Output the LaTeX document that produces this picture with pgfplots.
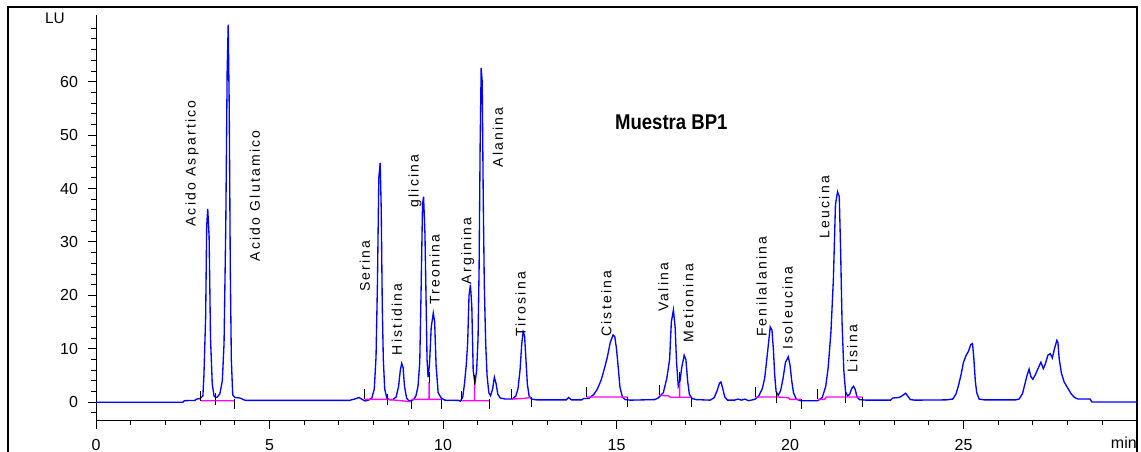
\documentclass[border=0pt]{standalone}
\usepackage{pgfplots}
\pgfplotsset{compat=1.18}
\usepackage{fontspec}
\setmainfont{Liberation Sans}
\newfontfamily\lblfont[LetterSpace=16]{Liberation Sans}
\definecolor{trace}{RGB}{0,0,255}
\definecolor{intbase}{RGB}{255,0,255}
\begin{document}
\begin{tikzpicture}[x=1pt,y=1pt]
\useasboundingbox (0,0) rectangle (855.75,339);
\draw[line width=0.9pt] (6,-3) rectangle (852.75,333.75);
\begin{axis}[
  at={(72pt,23.5pt)}, anchor=south west,
  scale only axis, width=780.75pt, height=304.3pt,
  xmin=0, xmax=30, ymin=-3.44, ymax=72.5,
  axis lines=left, axis line style={-, line width=0.75pt},
  xtick={0,5,10,15,20,25},
  minor xtick={1,2,3,4,6,7,8,9,11,12,13,14,16,17,18,19,21,22,23,24,26,27,28,29},
  ytick={0,10,20,30,40,50,60},
  minor ytick={-2,2,4,6,8,12,14,16,18,22,24,26,28,32,34,36,38,42,44,46,48,52,54,56,58,62,64,66,68,70},
  tick align=outside, major tick length=6pt, minor tick length=3.5pt,
  every tick/.style={black, line width=0.75pt},
  tick label style={font=\fontsize{12}{14}\selectfont},
  /pgf/number format/assume math mode=true,
  xticklabel style={anchor=center, yshift=-12pt},
  yticklabel style={xshift=-4pt},
  clip=false,
  unbounded coords=jump,
]
\addplot[trace, line width=1pt] coordinates {
(0,0) (2.5,0) (2.55,0.3) (2.85,0.35) (2.9,0.6) (3.0,0.7) (3.08,1.2) (3.11,5) (3.16,16) (3.19,33) (3.22,36.2) (3.26,31) (3.30,12) (3.35,3.5) (3.40,1.2) (3.45,0.9) (3.50,1.0) (3.57,1.6) (3.64,4) (3.69,11) (3.74,33) (3.78,62) (3.81,70.7) (3.84,55) (3.87,25) (3.90,8) (3.94,1.4) (4.0,0.9) (4.15,0.8) (4.3,0.35) (7.3,0.35) (7.45,0.6) (7.58,0.9) (7.68,0.5) (7.75,0.25) (7.85,0.4) (7.95,0.8) (8.02,2.5) (8.07,8.5) (8.11,22) (8.15,42) (8.19,44.8) (8.22,36) (8.25,18) (8.28,8) (8.32,2.5) (8.38,0.8) (8.45,0.5) (8.55,0.5) (8.65,1.0) (8.72,3) (8.77,6) (8.81,7.3) (8.85,6.5) (8.89,3) (8.95,0.8) (9.02,0.25) (9.1,0.35) (9.15,0.5) (9.22,1.2) (9.28,3) (9.33,7.5) (9.37,21.5) (9.41,37) (9.44,38.5) (9.48,31.5) (9.51,20) (9.54,8) (9.57,4.7) (9.61,7) (9.66,14) (9.72,16.7) (9.76,15) (9.8,7) (9.86,1.8) (9.95,0.8) (10.05,0.4) (10.45,0.35) (10.5,0.2) (10.57,1) (10.62,3.5) (10.67,7) (10.71,11) (10.75,20) (10.79,22) (10.83,18) (10.87,6) (10.92,3.5) (10.97,6) (11.01,12) (11.04,25) (11.07,48) (11.1,62.6) (11.13,60) (11.16,38) (11.19,22) (11.23,11) (11.27,5) (11.32,1.8) (11.37,1.2) (11.43,2.5) (11.48,4.7) (11.53,3.5) (11.58,1.5) (11.65,0.8) (11.8,0.6) (12.0,0.6) (12.1,1.2) (12.16,2.5) (12.22,6) (12.27,11) (12.31,13.2) (12.35,12.5) (12.39,8) (12.43,3.5) (12.48,1.2) (12.55,0.6) (12.7,0.45) (13.55,0.45) (13.62,0.9) (13.7,0.45) (14.0,0.45) (14.05,0.7) (14.2,0.7) (14.35,1.5) (14.45,2.5) (14.56,4.2) (14.66,6.5) (14.74,8.6) (14.82,11.2) (14.9,12.6) (14.95,12.3) (15.0,10) (15.05,6.5) (15.1,2.8) (15.17,1) (15.25,0.5) (15.4,0.4) (16.1,0.5) (16.2,0.8) (16.35,1.8) (16.45,4.5) (16.53,8) (16.58,15) (16.64,17.3) (16.69,14) (16.73,7.5) (16.78,3) (16.83,4) (16.88,6.5) (16.95,8.8) (17.0,8) (17.05,4) (17.1,1.5) (17.18,0.7) (17.3,0.5) (17.7,0.4) (17.82,0.9) (17.9,2.2) (17.97,3.6) (18.01,3.8) (18.06,2.6) (18.12,1) (18.2,0.4) (18.4,0.4) (18.5,0.6) (18.6,0.4) (18.7,0.6) (18.8,0.3) (18.95,0.5) (19.0,0.6) (19.1,1.2) (19.2,2.5) (19.27,4.5) (19.33,8) (19.38,11) (19.43,14.1) (19.48,13.5) (19.52,10) (19.56,5) (19.6,2) (19.66,1.3) (19.73,2.2) (19.8,4.5) (19.87,7.5) (19.95,8.5) (20.0,7) (20.05,4) (20.1,1.8) (20.18,0.6) (20.3,0.3) (20.8,0.3) (20.93,0.9) (21.03,3) (21.1,6.5) (21.18,13.2) (21.25,23) (21.31,37) (21.37,39.4) (21.42,38.5) (21.46,28) (21.5,15) (21.55,6) (21.6,2) (21.66,1.2) (21.72,1.5) (21.78,2.6) (21.83,3.0) (21.88,2.4) (21.93,1) (22.0,0.5) (22.2,0.4) (22.9,0.4) (22.96,0.8) (23.15,0.9) (23.25,1.3) (23.33,1.7) (23.4,1.1) (23.47,0.5) (23.6,0.4) (24.5,0.45) (24.69,0.6) (24.78,1.5) (24.85,3) (24.93,5.2) (25.0,7.5) (25.07,8.7) (25.14,9.5) (25.21,10.8) (25.26,11) (25.3,8) (25.34,4) (25.38,1.8) (25.45,0.6) (25.6,0.45) (26.5,0.45) (26.6,0.6) (26.7,1.6) (26.76,3.2) (26.83,5) (26.89,6.2) (26.94,4.8) (27.0,4.3) (27.08,5.3) (27.16,6.5) (27.23,7.5) (27.3,6.3) (27.36,7.2) (27.43,8.8) (27.5,9.1) (27.56,8.3) (27.62,10) (27.69,11.6) (27.72,11.2) (27.76,8) (27.82,5.5) (27.9,3.8) (28.0,2.7) (28.1,1.6) (28.2,0.9) (28.3,0.6) (28.65,0.6) (28.7,0.05) (30,0.05)
};
\addplot[intbase, line width=1pt] coordinates {
(3.02,0.3) (4.0,0.3) (4.0,nan)
(7.75,0.55) (8.4,0.55) (8.78,0.3) (9.09,0.1) (9.09,nan)
(9.09,0.55) (9.95,0.55) (9.95,nan)
(9.6,0.55) (9.6,3.8) (9.6,nan)
(10.53,0.3) (11.34,0.3) (11.34,nan)
(10.91,0.3) (10.91,3.2) (10.91,nan)
(11.97,0.6) (12.3,0.7) (12.54,0.9) (12.54,nan)
(14.13,1.0) (15.33,1.0) (15.33,nan)
(16.24,1.3) (16.5,1.2) (16.55,0.95) (17.15,0.95) (17.15,nan)
(16.82,0.95) (16.82,3.6) (16.82,nan)
(19.0,1.0) (19.62,1.0) (19.95,0.85) (20.0,0.55) (20.32,0.55) (20.32,nan)
(20.8,0.55) (21.0,0.55) (21.05,1.0) (22.09,1.0)
};
\addplot[black, line width=0.75pt] coordinates {
(3.02,0.3) (3.02,2.2) (3.02,nan)
(3.45,-0.6) (3.45,1.8) (3.45,nan)
(4.0,-1.2) (4.0,0.6) (4.0,nan)
(7.75,0.55) (7.75,2.4) (7.75,nan)
(8.4,-0.6) (8.4,1.6) (8.4,nan)
(9.09,-1.3) (9.09,0.4) (9.09,nan)
(9.6,3.6) (9.6,5.6) (9.6,nan)
(9.95,-1.2) (9.95,0.6) (9.95,nan)
(10.53,0.3) (10.53,2.2) (10.53,nan)
(10.91,3.2) (10.91,5.2) (10.91,nan)
(11.34,-1.2) (11.34,0.6) (11.34,nan)
(11.97,0.6) (11.97,2.4) (11.97,nan)
(12.54,-0.8) (12.54,1.0) (12.54,nan)
(14.13,1.0) (14.13,2.9) (14.13,nan)
(15.33,-0.8) (15.33,1.0) (15.33,nan)
(16.24,1.3) (16.24,3.2) (16.24,nan)
(16.82,3.6) (16.82,5.6) (16.82,nan)
(17.15,-0.8) (17.15,1.0) (17.15,nan)
(19.0,1.0) (19.0,2.9) (19.0,nan)
(19.62,-0.2) (19.62,2.0) (19.62,nan)
(20.32,-1.3) (20.32,0.6) (20.32,nan)
(20.8,0.55) (20.8,2.4) (20.8,nan)
(21.61,-0.2) (21.61,2.0) (21.61,nan)
(22.09,-0.8) (22.09,1.0)
};
\begin{scope}[every node/.style={rotate=90, anchor=west, inner sep=0pt, font=\lblfont\fontsize{10.5}{12}\selectfont}]
\node at (axis cs:2.77,32.8) {Acido Aspartico};
\node at (axis cs:4.58,26.3) {Acido Glutamico};
\node at (axis cs:7.75,20.6) {Serina};
\node at (axis cs:8.67,8.8) {Histidina};
\node at (axis cs:9.19,36.4) {glicina};
\node at (axis cs:9.76,18.2) {Treonina};
\node at (axis cs:10.71,22.0) {Arginina};
\node at (axis cs:11.58,43.9) {Alanina};
\node at (axis cs:12.24,12.2) {Tirosina};
\node at (axis cs:14.71,12.2) {Cisteina};
\node at (axis cs:16.35,16.9) {Valina};
\node at (axis cs:17.07,11.1) {Metionina};
\node at (axis cs:19.18,12.2) {Fenilalanina};
\node at (axis cs:19.93,9.8) {Isoleucina};
\node at (axis cs:20.99,30.6) {Leucina};
\node at (axis cs:21.8,5.5) {Lisina};
\end{scope}
\node[font=\bfseries\fontsize{16}{18}\selectfont, xscale=0.87] at (axis cs:16.58,52.46) {Muestra BP1};
\end{axis}
\node[font=\fontsize{11.5}{13}\selectfont] at (41.25,325.5) {LU};
\node[anchor=west, inner sep=0pt, font=\fontsize{12}{14}\selectfont] at (833,6.75) {min};
\end{tikzpicture}
\end{document}
